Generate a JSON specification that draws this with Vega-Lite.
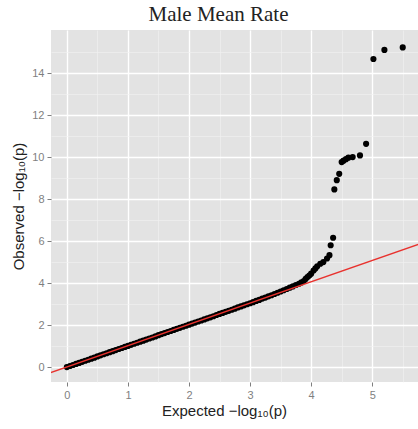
{
  "$schema": "https://vega.github.io/schema/vega-lite/v6.json",
  "width": 367,
  "height": 352,
  "autosize": {"type": "none"},
  "padding": {"left": 51, "top": 30, "right": 0, "bottom": 47},
  "background": "white",
  "title": {"text": "Male Mean Rate", "font": "Liberation Serif", "fontSize": 21, "fontWeight": "normal", "color": "#222222", "offset": 5, "dx": -16},
  "config": {
    "view": {"fill": "#e3e3e3", "stroke": null},
    "axis": {"labelFont": "Liberation Sans", "labelFontSize": 11, "labelColor": "#7f7f7f", "tickColor": "#7f7f7f", "tickSize": 4, "domain": false, "gridColor": "white", "gridWidth": 1.4, "titleFont": "Liberation Sans", "titleFontSize": 15, "titleFontWeight": "normal", "titleColor": "#222222", "labelPadding": 3}
  },
  "datasets": {
    "pts": [
      {"e": 0.0, "o": 0.0}, {"e": 0.05, "o": 0.05}, {"e": 0.1, "o": 0.1}, {"e": 0.15, "o": 0.15}, {"e": 0.2, "o": 0.2},
      {"e": 0.25, "o": 0.25}, {"e": 0.3, "o": 0.3}, {"e": 0.35, "o": 0.35}, {"e": 0.4, "o": 0.4}, {"e": 0.45, "o": 0.45},
      {"e": 0.5, "o": 0.51}, {"e": 0.55, "o": 0.56}, {"e": 0.6, "o": 0.61}, {"e": 0.65, "o": 0.66}, {"e": 0.7, "o": 0.71},
      {"e": 0.75, "o": 0.76}, {"e": 0.8, "o": 0.81}, {"e": 0.85, "o": 0.86}, {"e": 0.9, "o": 0.91}, {"e": 0.95, "o": 0.96},
      {"e": 1.0, "o": 1.01}, {"e": 1.05, "o": 1.06}, {"e": 1.1, "o": 1.11}, {"e": 1.15, "o": 1.16}, {"e": 1.2, "o": 1.21},
      {"e": 1.25, "o": 1.26}, {"e": 1.3, "o": 1.31}, {"e": 1.35, "o": 1.36}, {"e": 1.4, "o": 1.41}, {"e": 1.45, "o": 1.46},
      {"e": 1.5, "o": 1.52}, {"e": 1.55, "o": 1.57}, {"e": 1.6, "o": 1.62}, {"e": 1.65, "o": 1.67}, {"e": 1.7, "o": 1.72},
      {"e": 1.75, "o": 1.77}, {"e": 1.8, "o": 1.82}, {"e": 1.85, "o": 1.87}, {"e": 1.9, "o": 1.92}, {"e": 1.95, "o": 1.97},
      {"e": 2.0, "o": 2.02}, {"e": 2.05, "o": 2.07}, {"e": 2.1, "o": 2.12}, {"e": 2.15, "o": 2.17}, {"e": 2.2, "o": 2.22},
      {"e": 2.25, "o": 2.27}, {"e": 2.3, "o": 2.32}, {"e": 2.35, "o": 2.37}, {"e": 2.4, "o": 2.42}, {"e": 2.45, "o": 2.48},
      {"e": 2.5, "o": 2.53}, {"e": 2.55, "o": 2.58}, {"e": 2.6, "o": 2.63}, {"e": 2.65, "o": 2.68}, {"e": 2.7, "o": 2.73},
      {"e": 2.75, "o": 2.78}, {"e": 2.8, "o": 2.84}, {"e": 2.85, "o": 2.89}, {"e": 2.9, "o": 2.94}, {"e": 2.95, "o": 2.99},
      {"e": 3.0, "o": 3.04}, {"e": 3.05, "o": 3.09}, {"e": 3.1, "o": 3.15}, {"e": 3.15, "o": 3.2}, {"e": 3.2, "o": 3.26},
      {"e": 3.25, "o": 3.31}, {"e": 3.3, "o": 3.37}, {"e": 3.35, "o": 3.42}, {"e": 3.4, "o": 3.48}, {"e": 3.45, "o": 3.54},
      {"e": 3.5, "o": 3.6}, {"e": 3.55, "o": 3.66}, {"e": 3.6, "o": 3.72}, {"e": 3.65, "o": 3.78}, {"e": 3.7, "o": 3.84},
      {"e": 3.75, "o": 3.91}, {"e": 3.8, "o": 3.97}, {"e": 3.84, "o": 4.03}, {"e": 3.88, "o": 4.1}, {"e": 3.91, "o": 4.2},
      {"e": 3.94, "o": 4.29}, {"e": 3.97, "o": 4.36}, {"e": 4.0, "o": 4.45}, {"e": 4.04, "o": 4.6}, {"e": 4.07, "o": 4.7},
      {"e": 4.1, "o": 4.8}, {"e": 4.15, "o": 4.92}, {"e": 4.2, "o": 5.0}, {"e": 4.26, "o": 5.17}, {"e": 4.3, "o": 5.33},
      {"e": 4.32, "o": 5.8}, {"e": 4.36, "o": 6.16}, {"e": 4.38, "o": 8.46}, {"e": 4.42, "o": 8.9}, {"e": 4.46, "o": 9.2},
      {"e": 4.5, "o": 9.76}, {"e": 4.53, "o": 9.83}, {"e": 4.57, "o": 9.9}, {"e": 4.61, "o": 9.97}, {"e": 4.68, "o": 10.0},
      {"e": 4.8, "o": 10.08}, {"e": 4.9, "o": 10.63}, {"e": 5.02, "o": 14.67}, {"e": 5.2, "o": 15.1}, {"e": 5.5, "o": 15.22}
    ],
    "ref": [{"e": -0.4, "o": -0.4}, {"e": 5.9, "o": 5.99}]
  },
  "layer": [
    {
      "data": {"name": "ref"},
      "mark": {"type": "point", "opacity": 0},
      "encoding": {
        "x": {"field": "e", "type": "quantitative", "scale": {"domain": [-0.26, 5.75], "nice": false, "zero": false},
              "axis": {"orient": "top", "values": [0.5, 1.5, 2.5, 3.5, 4.5, 5.5], "grid": true, "gridWidth": 0.6, "gridColor": "#f2f2f2", "labels": false, "ticks": false, "domain": false, "title": null}},
        "y": {"field": "o", "type": "quantitative", "scale": {"domain": [-0.71, 16.05], "nice": false, "zero": false},
              "axis": {"orient": "right", "values": [1, 3, 5, 7, 9, 11, 13, 15], "grid": true, "gridWidth": 0.6, "gridColor": "#f2f2f2", "labels": false, "ticks": false, "domain": false, "title": null}}
      }
    },
    {
      "data": {"name": "pts"},
      "mark": {"type": "circle", "color": "black", "opacity": 1, "size": 38},
      "encoding": {
        "x": {"field": "e", "type": "quantitative", "scale": {"domain": [-0.26, 5.75], "nice": false, "zero": false},
              "axis": {"orient": "bottom", "values": [0, 1, 2, 3, 4, 5], "grid": true, "title": "Expected  −log₁₀(p)", "titlePadding": 3, "titleX": 173}},
        "y": {"field": "o", "type": "quantitative", "scale": {"domain": [-0.71, 16.05], "nice": false, "zero": false},
              "axis": {"orient": "left", "values": [0, 2, 4, 6, 8, 10, 12, 14], "grid": true, "title": "Observed  −log₁₀(p)", "titlePadding": 5}}
      }
    },
    {
      "data": {"name": "ref"},
      "mark": {"type": "line", "color": "#e8322e", "strokeWidth": 1.3, "clip": true},
      "encoding": {
        "x": {"field": "e", "type": "quantitative", "scale": {"domain": [-0.26, 5.75], "nice": false, "zero": false}, "axis": null},
        "y": {"field": "o", "type": "quantitative", "scale": {"domain": [-0.71, 16.05], "nice": false, "zero": false}, "axis": null}
      }
    }
  ],
  "resolve": {"axis": {"x": "independent", "y": "independent"}}
}
